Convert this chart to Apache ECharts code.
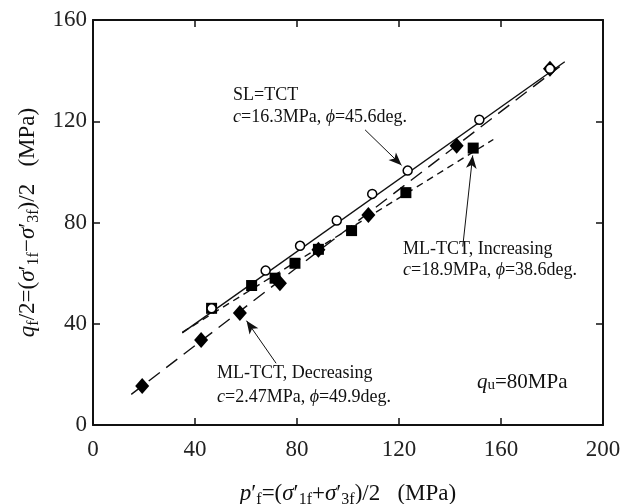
<!DOCTYPE html>
<html>
<head>
<meta charset="utf-8">
<script src="https://cdn.jsdelivr.net/npm/echarts@6/dist/echarts.min.js"></script>
<style>
  html, body { margin: 0; padding: 0; background: #fff; }
  #chart { width: 631px; height: 504px; }
</style>
</head>
<body>
<div id="chart"></div>
<script>
// values (p'f, qf/2) in MPa
const xTicks = [0, 40, 80, 120, 160, 200]
const yTicks = [0, 40, 80, 120, 160]

const slPoints = [[46.5, 46.1], [67.7, 61.0], [81.2, 70.8], [95.6, 80.8], [109.5, 91.3], [123.4, 100.5], [151.5, 120.6], [179.2, 140.7]]
const incPoints = [[46.5, 46.1], [62.2, 55.1], [71.4, 58.0], [79.2, 63.9], [88.4, 69.4], [101.4, 76.8], [122.7, 91.8], [149.1, 109.4]]
const decPoints = [[19.3, 15.4], [42.4, 33.6], [57.6, 44.2], [73.3, 56.0], [88.4, 69.2], [108.0, 83.0], [142.6, 110.3], [179.2, 140.7]]

// fitted failure lines, end points
const slLine = [[35, 36.4], [185, 143.5]]
const incLine = [[35, 36.6], [157, 112.8]]
const decLine = [[15, 12.1], [183, 141.6]]

// arrows: [from, to]
const arrows = [
  [[106.7, 116.6], [121.0, 102.6]],
  [[145.0, 70.5], [148.9, 106.5]],
  [[71.8, 24.4], [60.2, 41.2]]
]

const serif = "'Liberation Serif', 'Times New Roman', serif"
const ink = '#111'

const richTitle = {
  n: { fontSize: 23, fontFamily: serif, color: ink, lineHeight: 28 },
  i: { fontSize: 23, fontFamily: serif, color: ink, fontStyle: 'italic', lineHeight: 28 },
  sub: { fontSize: 16, fontFamily: serif, color: ink, lineHeight: 14, verticalAlign: 'bottom' }
}

function richNote (size) {
  return {
    n: { fontSize: size, fontFamily: serif, color: ink },
    i: { fontSize: size, fontFamily: serif, color: ink, fontStyle: 'italic' },
    sub: { fontSize: Math.round(size * 0.7), fontFamily: serif, color: ink, lineHeight: 10, verticalAlign: 'bottom' }
  }
}

function note (x, y, text, size) {
  size = size || 18
  return {
    type: 'text',
    x: x,
    y: y,
    silent: true,
    style: {
      text: text,
      rich: richNote(size),
      fontSize: size,
      fontFamily: serif,
      fill: ink,
      verticalAlign: 'middle'
    }
  }
}

function frameAxis (pos, max) {
  return {
    type: 'value',
    position: pos,
    min: 0,
    max: max,
    interval: 40,
    axisLine: { show: true, onZero: false, lineStyle: { color: ink, width: 2 } },
    axisTick: { show: true, inside: true, length: 7, lineStyle: { color: ink, width: 1.5 } },
    axisLabel: { show: false },
    splitLine: { show: false }
  }
}

let myChart = echarts.init(document.getElementById('chart'))
myChart.setOption({
  animation: false,
  backgroundColor: '#fff',
  grid: { left: 93, right: 28, top: 20, bottom: 79, containLabel: false, outerBoundsMode: 'none' },
  xAxis: [{
    type: 'value',
    min: xTicks[0],
    max: xTicks[xTicks.length - 1],
    interval: 40,
    axisLine: { onZero: false, lineStyle: { color: ink, width: 2 } },
    axisTick: { inside: true, length: 7, lineStyle: { color: ink, width: 1.5 } },
    axisLabel: { margin: 13, fontSize: 23, fontFamily: serif, color: '#222' },
    splitLine: { show: false },
    name: '{i|p}{n|′}{sub|f}{n|=(}{i|σ}{n|′}{sub|1f}{n|+}{i|σ}{n|′}{sub|3f}{n|)/2   (MPa)}',
    nameLocation: 'middle',
    nameGap: 55,
    nameTextStyle: { rich: richTitle }
  }, frameAxis('top', 200)],
  yAxis: [{
    type: 'value',
    min: yTicks[0],
    max: yTicks[yTicks.length - 1],
    interval: 40,
    axisLine: { onZero: false, lineStyle: { color: ink, width: 2 } },
    axisTick: { inside: true, length: 7, lineStyle: { color: ink, width: 1.5 } },
    axisLabel: { margin: 6, fontSize: 23, fontFamily: serif, color: '#222' },
    splitLine: { show: false },
    name: '{i|q}{sub|f}{n|/2=(}{i|σ}{n|′}{sub|1f}{n|−}{i|σ}{n|′}{sub|3f}{n|)/2   (MPa)}',
    nameLocation: 'middle',
    nameRotate: 90,
    nameGap: 47,
    nameTextStyle: { rich: richTitle }
  }, frameAxis('right', 160)],
  series: [{
    type: 'line',
    data: slLine,
    symbol: 'none',
    lineStyle: { color: ink, width: 1.4, type: 'solid' },
    z: 2,
    markLine: {
      silent: true,
      symbol: ['none', 'arrow'],
      symbolSize: [8, 13],
      label: { show: false },
      lineStyle: { color: ink, width: 1, type: 'solid' },
      data: arrows.map(a => [{ coord: a[0] }, { coord: a[1] }])
    }
  }, {
    type: 'line',
    data: incLine,
    symbol: 'none',
    lineStyle: { color: ink, width: 1.4, type: [7, 5] },
    z: 2
  }, {
    type: 'line',
    data: decLine,
    symbol: 'none',
    lineStyle: { color: ink, width: 1.4, type: [14, 8] },
    z: 2
  }, {
    type: 'scatter',
    data: incPoints,
    symbol: 'rect',
    symbolSize: 11,
    itemStyle: { color: '#000', opacity: 1 },
    z: 3
  }, {
    type: 'scatter',
    data: decPoints,
    symbol: 'diamond',
    symbolSize: [14, 16],
    itemStyle: { color: '#000', opacity: 1 },
    z: 4
  }, {
    type: 'scatter',
    data: slPoints,
    symbol: 'circle',
    symbolSize: 9,
    itemStyle: { color: '#fff', borderColor: '#000', borderWidth: 1.5, opacity: 1 },
    z: 5
  }],
  graphic: [
    note(233, 95, '{n|SL=TCT}'),
    note(233, 117, '{i|c}{n|=16.3MPa, }{i|ϕ}{n|=45.6deg.}'),
    note(403, 249, '{n|ML-TCT, Increasing}'),
    note(403, 270, '{i|c}{n|=18.9MPa, }{i|ϕ}{n|=38.6deg.}'),
    note(217, 373, '{n|ML-TCT, Decreasing}'),
    note(217, 397, '{i|c}{n|=2.47MPa, }{i|ϕ}{n|=49.9deg.}'),
    note(477, 382, '{i|q}{sub|u}{n|=80MPa}', 21)
  ]
})
</script>
</body>
</html>
